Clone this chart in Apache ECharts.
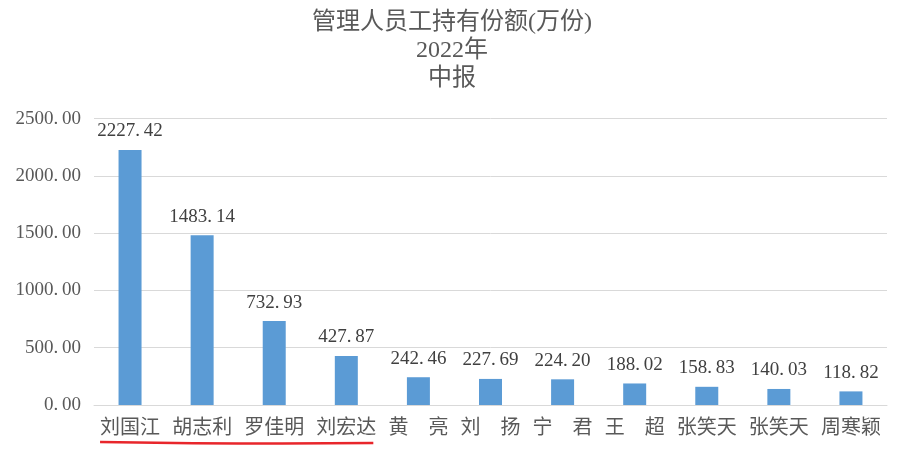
<!DOCTYPE html>
<html><head><meta charset="utf-8">
<script src="https://cdn.jsdelivr.net/npm/echarts@6/dist/echarts.min.js"></script>
<style>html,body{margin:0;padding:0;background:#fff}#c{width:904px;height:451px}</style>
</head><body><div id="c"></div>
<script>
const titleText = '管理人员工持有份额(万份)\n2022年\n中报';
const categories = ['刘国江','胡志利','罗佳明','刘宏达','黄　亮','刘　扬','宁　君','王　超','张笑天','张笑天','周寒颖'];
const values = [2227.42,1483.14,732.93,427.87,242.46,227.69,224.20,188.02,158.83,140.03,118.82];
const yTicks = {min:0, max:2500, interval:500};

const FONT = '"Liberation Serif", "Noto Sans CJK SC", serif';
const fmt = v => v.toFixed(2).replace('.', '.\u2009');
const chart = echarts.init(document.getElementById('c'));
chart.setOption({
  animation:false,
  backgroundColor:'#fff',
  title:{text:titleText,left:'center',top:4,textStyle:{fontFamily:FONT,fontSize:24,fontWeight:'normal',color:'#595959',lineHeight:28}},
  grid:{left:94,right:17,top:118.7,bottom:46,containLabel:false},
  xAxis:{type:'category',data:categories,
    axisLine:{lineStyle:{color:'#d9d9d9',width:1}},axisTick:{show:false},
    axisLabel:{interval:0,margin:14,fontFamily:FONT,fontSize:20,color:'#595959'}},
  yAxis:{type:'value',min:yTicks.min,max:yTicks.max,interval:yTicks.interval,
    axisLine:{show:false},axisTick:{show:false},
    splitLine:{lineStyle:{color:'#d9d9d9',width:1}},
    axisLabel:{margin:13,fontFamily:FONT,fontSize:19,color:'#595959',formatter:v=>fmt(v)}},
  series:[{type:'bar',data:values,barWidth:23,
    itemStyle:{color:'#5B9BD5'},
    label:{show:true,position:'top',distance:9,fontFamily:FONT,fontSize:19,color:'#404040',formatter:p=>fmt(p.value)}}]
});
// red freehand underline below first four names
const p0 = chart.convertToPixel({xAxisIndex:0},0);
const p3 = chart.convertToPixel({xAxisIndex:0},3);
const half = 30;
chart.setOption({graphic:[{type:'polyline',shape:{points:[[p0-half,442],[(p0+p3)/2,443.5],[p3+half-3,443]],smooth:0.4},
  style:{stroke:'#E8262B',lineWidth:2.5,fill:null}}]});
</script></body></html>
